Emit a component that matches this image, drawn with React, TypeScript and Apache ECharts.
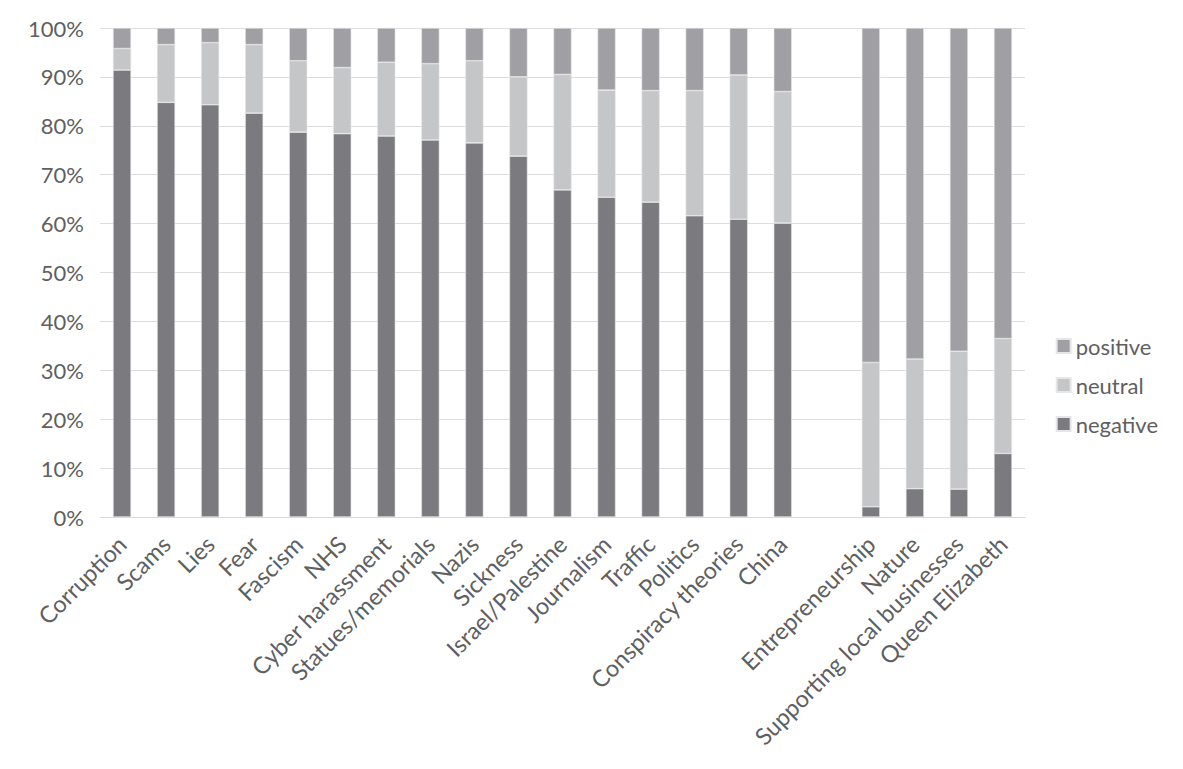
import React, { useEffect, useRef } from "react";
import * as echarts from "echarts";

const categories = [
  "Corruption", "Scams", "Lies", "Fear", "Fascism", "NHS", "Cyber harassment",
  "Statues/memorials", "Nazis", "Sickness", "Israel/Palestine", "Journalism",
  "Traffic", "Politics", "Conspiracy theories", "China", "",
  "Entrepreneurship", "Nature", "Supporting local businesses", "Queen Elizabeth",
];

const negative = [91.4, 84.8, 84.3, 82.6, 78.7, 78.4, 77.9, 77.1, 76.5, 73.8, 66.9, 65.4, 64.4, 61.6, 60.9, 60.1, null, 2.1, 5.8, 5.7, 13.0];
const neutral = [4.4, 11.8, 12.7, 14.0, 14.6, 13.5, 15.1, 15.6, 16.8, 16.2, 23.6, 21.9, 22.8, 25.6, 29.5, 26.9, null, 29.5, 26.5, 28.2, 23.5];
const positive = negative.map((n, i) => (n === null ? null : +(100 - (n as number) - (neutral[i] as number)).toFixed(1)));

const yTicks = [0, 10, 20, 30, 40, 50, 60, 70, 80, 90, 100];

const FONT = "Lato, 'Open Sans', sans-serif";
const TEXT = "#5f5f5f";

export default function App() {
  const ref = useRef<HTMLDivElement>(null);
  useEffect(() => {
    if (!ref.current) return;
    const chart = echarts.init(ref.current, null, { renderer: "svg" });
    const barStyle = (color: string) => ({ color, borderColor: "#e6e6e6", borderWidth: 0.6 });
    chart.setOption({
      animation: false,
      textStyle: { fontFamily: FONT },
      grid: { left: 92, right: 150, top: 20, bottom: 244, containLabel: false },
      legend: {
        orient: "vertical",
        right: 12,
        top: 322,
        itemWidth: 14,
        itemHeight: 14,
        itemGap: 17,
        icon: "rect",
        data: ["positive", "neutral", "negative"],
        textStyle: { fontFamily: FONT, fontSize: 22, color: TEXT },
      },
      xAxis: {
        type: "category",
        data: categories,
        axisLine: { lineStyle: { color: "#d9d9d9", width: 1 } },
        axisTick: { show: false },
        axisLabel: {
          interval: 0,
          rotate: 45,
          fontFamily: FONT,
          fontSize: 23.5,
          color: TEXT,
          margin: 23,
        },
      },
      yAxis: {
        type: "value",
        min: 0,
        max: 100,
        interval: 10,
        axisLine: { show: false },
        axisTick: { show: false },
        splitLine: { lineStyle: { color: "#dedede", width: 1 } },
        axisLabel: {
          formatter: (v: number) => (yTicks.includes(v) ? v + "%" : ""),
          fontFamily: FONT,
          fontSize: 22,
          color: TEXT,
          margin: 16,
        },
      },
      series: [
        { name: "negative", type: "bar", stack: "s", barWidth: "41%", data: negative, itemStyle: barStyle("#7b7a7f") },
        { name: "neutral", type: "bar", stack: "s", barWidth: "41%", data: neutral, itemStyle: barStyle("#c4c6c8") },
        { name: "positive", type: "bar", stack: "s", barWidth: "41%", data: positive, itemStyle: barStyle("#a09fa4") },
      ],
    });
    return () => chart.dispose();
  }, []);
  return <div ref={ref} style={{ width: 1167, height: 753 }} />;
}
